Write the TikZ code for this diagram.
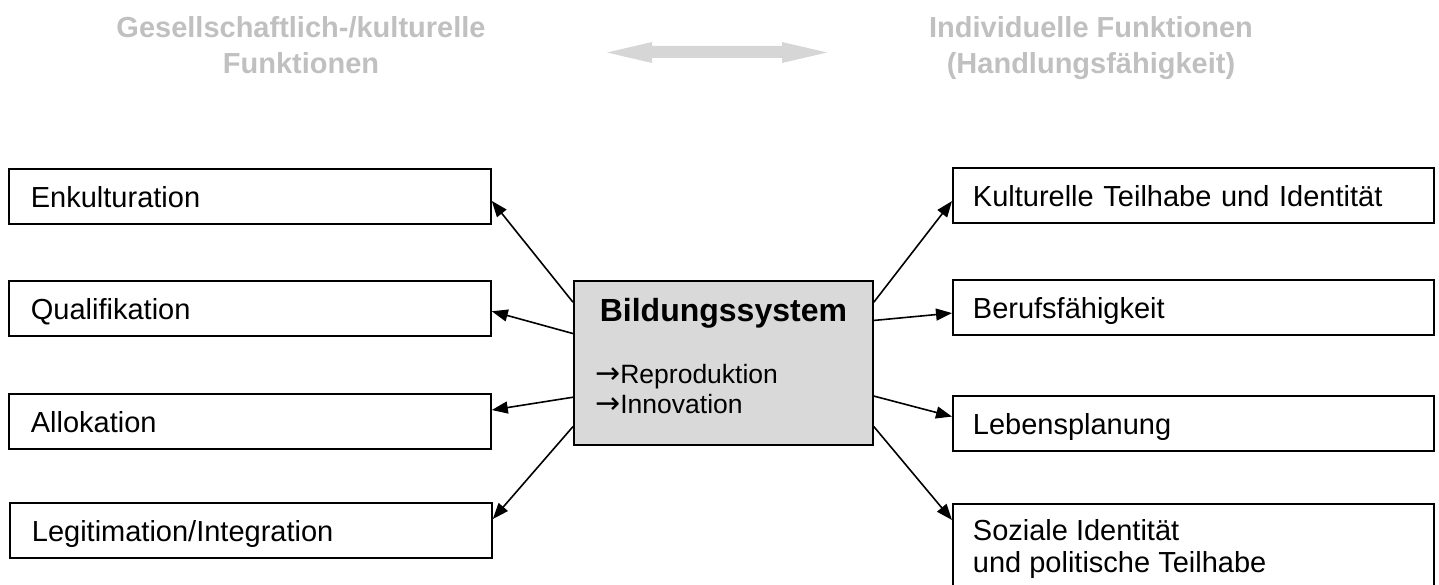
\documentclass[tikz,border=0pt]{standalone}
\usepackage{fontspec}
\setmainfont{Liberation Sans}
\newfontfamily\arrowfont{DejaVu Sans}
\usetikzlibrary{arrows.meta,calc}
\definecolor{hdrgray}{RGB}{192,192,192}
\definecolor{arrgray}{RGB}{214,214,214}
\definecolor{boxgray}{RGB}{217,217,217}
\begin{document}
\begin{tikzpicture}[x=1pt,y=-1pt,
  boxbase/.style={draw=black, line width=1.8pt, anchor=north west, align=left, font=\fontsize{29}{32}\selectfont},
  lbox/.style={boxbase, inner xsep=22pt, inner ysep=0pt, text width=438pt, minimum height=55pt, text height=22pt, text depth=0pt},
  rbox/.style={boxbase, inner xsep=20pt, inner ysep=0pt, text width=441pt, minimum height=55pt, text height=22pt, text depth=0pt},
  sbox/.style={boxbase, inner xsep=20pt, inner ysep=16pt},
  hdr/.style={text=hdrgray, font=\fontsize{29}{36}\selectfont\bfseries, align=center, inner sep=0pt, anchor=north},
  conn/.style={-{Triangle[length=16pt,width=12pt]}, line width=1.6pt},
  listline/.style={anchor=base west, font=\fontsize{26.5}{30}\selectfont, inner sep=0pt},
]
\useasboundingbox (0,0) rectangle (1439,585);

% header
\node[hdr] (hl) at (301,16) {Gesellschaftlich-/kulturelle\\Funktionen};
\node[hdr] (hr) at (1091,16) {Individuelle Funktionen\\(Handlungsfähigkeit)};
\fill[arrgray] (607,52.5) -- (652,42) -- (652,46) -- (782,46) -- (782,42) -- (827,52.5)
  -- (782,63) -- (782,58) -- (652,58) -- (652,63) -- cycle;

% center
\node[draw=black, line width=1.8pt, fill=boxgray, anchor=north west, minimum width=299pt,
  minimum height=164pt, inner sep=0pt] (c) at (573,280) {};
\node[anchor=base, font=\fontsize{32}{36}\selectfont\bfseries, inner sep=0pt] (title)
  at ($(c.north)+(0,41)$) {Bildungssystem};
\node[listline] (li1) at ($(c.north west)+(22,103)$) {{\arrowfont\fontsize{30}{30}\selectfont →}Reproduktion};
\node[listline] (li2) at ($(c.north west)+(22,133)$) {{\arrowfont\fontsize{30}{30}\selectfont →}Innovation};

% left boxes
\node[lbox] (enk) at (8,168) {Enkulturation};
\node[lbox] (qua) at (8,280) {Qualifikation};
\node[lbox] (all) at (8,393) {Allokation};
\node[lbox] (leg) at (9,502) {Legitimation/Integration};

% right boxes
\node[rbox] (kul) at (952,167) {Kulturelle Teilhabe und Identität};
\node[rbox] (ber) at (952,279) {Berufsfähigkeit};
\node[rbox] (leb) at (952,395) {Lebensplanung};
\node[sbox] (soz) at (952,503) {\parbox[t][53pt][t]{441pt}{Soziale Identität\\und politische Teilhabe}};

% connectors
\draw[conn] ($(c.north west)!0.134!(c.south west)$) -- ($(enk.north east)!0.58!(enk.south east)$);
\draw[conn] ($(c.north west)!0.323!(c.south west)$) -- ($(qua.north east)!0.55!(qua.south east)$);
\draw[conn] ($(c.north west)!0.707!(c.south west)$) -- ($(all.north east)!0.30!(all.south east)$);
\draw[conn] ($(c.north west)!0.884!(c.south west)$) -- ($(leg.north east)!0.30!(leg.south east)$);
\draw[conn] ($(c.north east)!0.134!(c.south east)$) -- ($(kul.north west)!0.60!(kul.south west)$);
\draw[conn] ($(c.north east)!0.244!(c.south east)$) -- ($(ber.north west)!0.60!(ber.south west)$);
\draw[conn] ($(c.north east)!0.70!(c.south east)$) -- ($(leb.north west)!0.38!(leb.south west)$);
\draw[conn] ($(c.north east)!0.884!(c.south east)$) -- ($(soz.north west)+(0,17)$);
\end{tikzpicture}
\end{document}
